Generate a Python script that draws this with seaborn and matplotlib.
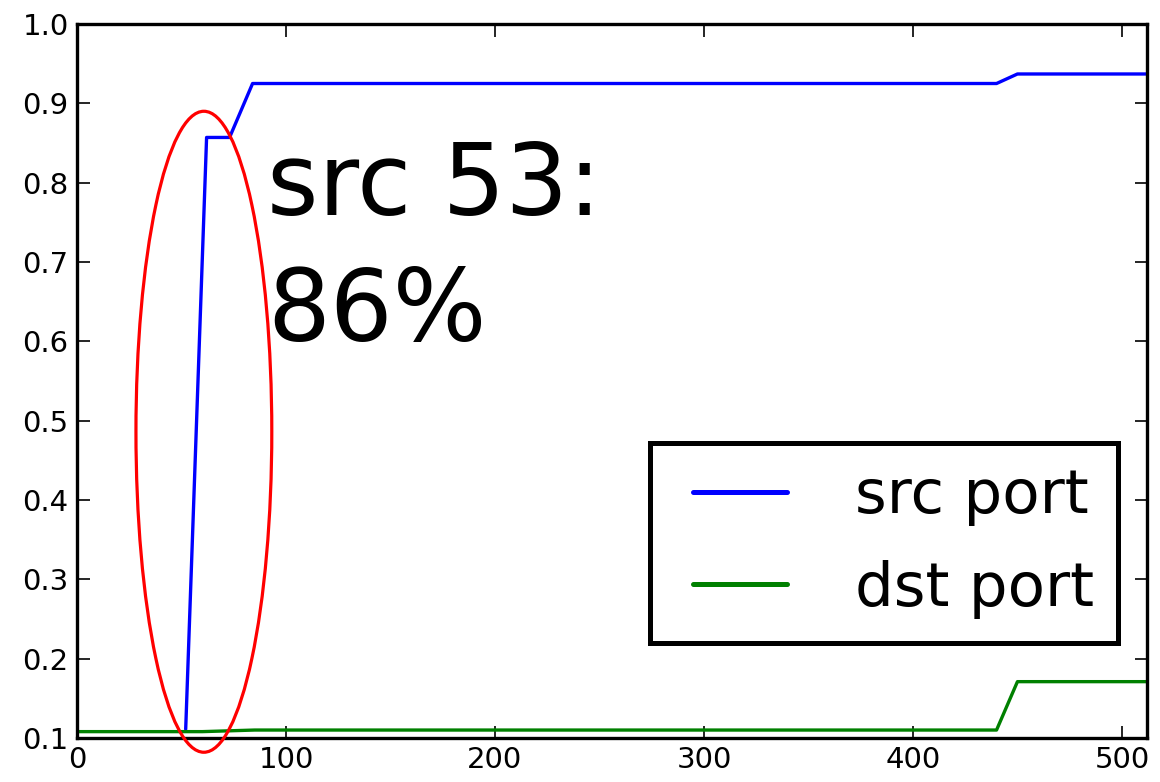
import pandas as pd
import seaborn as sns
import matplotlib.pyplot as plt
from matplotlib.patches import Ellipse

# breakpoints of the two cumulative curves
src_x = [52, 62, 73, 84, 440, 450, 512]
src_y = [0.111, 0.857, 0.857, 0.925, 0.925, 0.937, 0.937]
dst_x = [0, 60, 85, 440, 450, 512]
dst_y = [0.108, 0.108, 0.110, 0.110, 0.171, 0.171]

labels = ['src port', 'dst port']
note = 'src 53:\n86%'

src = pd.DataFrame({'x': src_x, 'y': src_y, 'series': labels[0]})
dst = pd.DataFrame({'x': dst_x, 'y': dst_y, 'series': labels[1]})
data = pd.concat([src, dst], ignore_index=True)

sns.set_style('ticks')
plt.rcParams['font.family'] = ['DejaVu Sans']
plt.rcParams['text.color'] = 'black'

fig = plt.figure(figsize=(11.6, 7.82), dpi=100)
ax = fig.add_axes([0.0664, 0.0563, 0.9224, 0.913])

sns.lineplot(data=data, x='x', y='y', hue='series', palette=['#0000ff', '#008000'],
             estimator=None, sort=False, linewidth=2.4, ax=ax)

ax.set_xlim(0, 512)
ax.set_ylim(0.1, 1.0)
ax.set_xticks(range(0, 501, 100))
ax.set_yticks([0.1 * i for i in range(1, 11)])
ax.set_yticklabels([f'{0.1 * i:.1f}' for i in range(1, 11)])
ax.set_xlabel('')
ax.set_ylabel('')
ax.tick_params(direction='in', length=9, width=1.2, labelsize=21, top=True, right=True,
               colors='black', pad=6)
for s in ax.spines.values():
    s.set_linewidth(2.4)
    s.set_color('black')

ax.add_patch(Ellipse((60.7, 0.486), 65, 0.808, fill=False, edgecolor='red',
                     linewidth=2.3, clip_on=False, zorder=5))

ax.text(91, 0.855, note, fontsize=71, va='top', ha='left', linespacing=1.38,
        color='black')

leg = ax.legend(loc='lower right', bbox_to_anchor=(0.973, 0.133), fontsize=44,
                frameon=True, fancybox=False, numpoints=2, handlelength=2.15,
                handletextpad=0.8, borderpad=0.4, labelspacing=0.55, borderaxespad=0)
leg.get_frame().set_edgecolor('black')
leg.get_frame().set_linewidth(3.6)
leg.get_frame().set_alpha(1)
for h in leg.get_lines():
    h.set_linewidth(3.6)
for t in leg.get_texts():
    t.set_color('black')

plt.savefig('out.png', dpi=100)
